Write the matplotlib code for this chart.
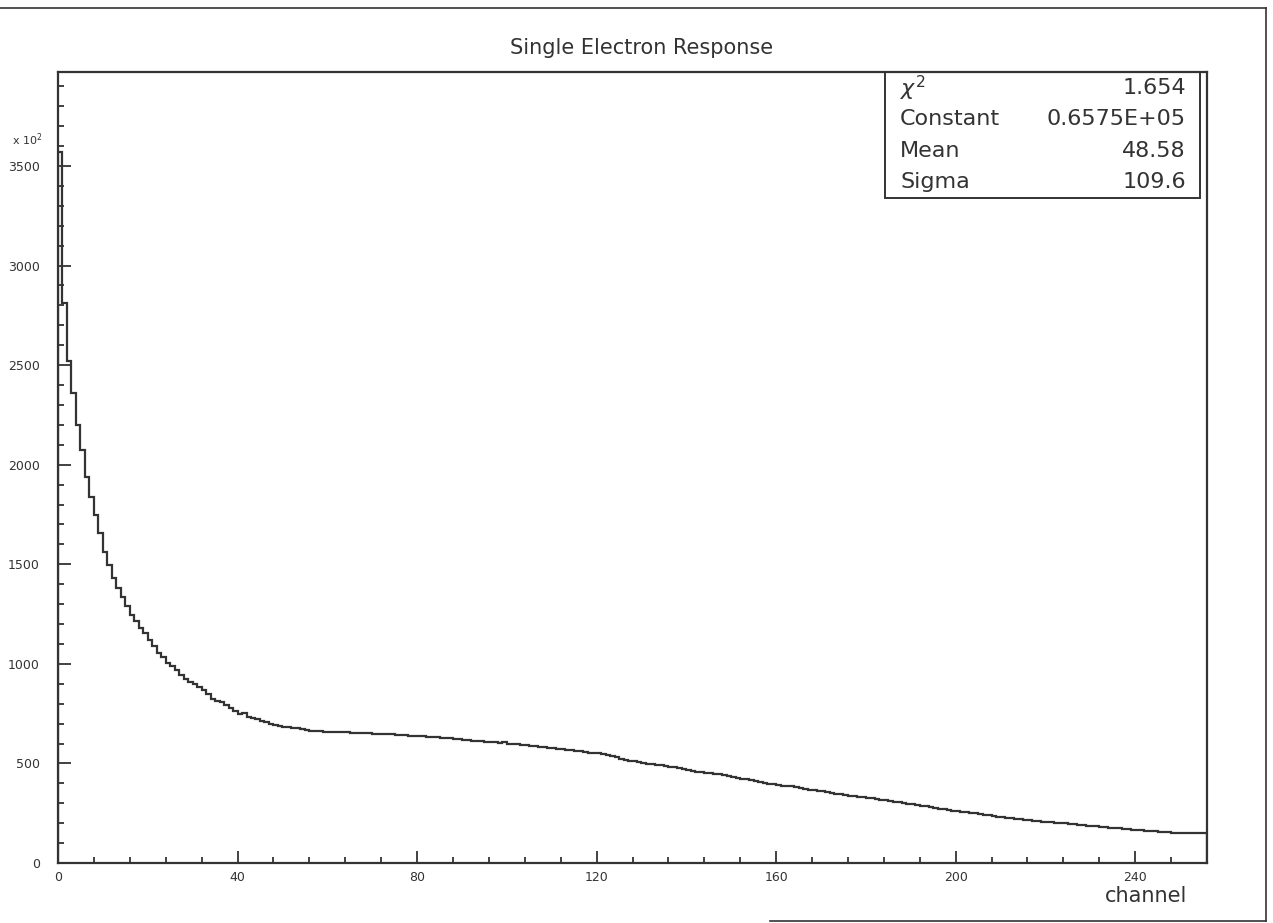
import matplotlib
matplotlib.use("Agg")
import matplotlib.pyplot as plt
import numpy as np
from matplotlib.ticker import MultipleLocator
from matplotlib.lines import Line2D

# histogram contents, one value per channel (units of 10^2)
counts = [
    3570, 2810, 2520, 2360, 2200, 2075, 1940, 1840, 1745, 1655,
    1560, 1495, 1430, 1380, 1335, 1290, 1245, 1215, 1180, 1155,
    1120, 1090, 1055, 1035, 1005, 990, 970, 945, 925, 910,
    900, 885, 870, 850, 825, 815, 808, 795, 778, 765,
    750, 755, 735, 730, 722, 715, 708, 700, 695, 688,
    683, 681, 679, 678, 675, 670, 665, 663, 661, 660,
    658, 659, 657, 656, 660, 655, 654, 653, 652, 652,
    650, 649, 648, 647, 648, 645, 643, 643, 640, 639,
    638, 636, 635, 633, 632, 630, 628, 626, 624, 622,
    619, 617, 615, 613, 612, 610, 608, 606, 604, 608,
    600, 598, 596, 593, 591, 588, 586, 583, 581, 578,
    576, 573, 570, 568, 565, 562, 560, 556, 553, 550,
    550, 545, 540, 535, 530, 524, 518, 513, 510, 506,
    503, 499, 496, 492, 490, 487, 484, 480, 477, 472,
    468, 463, 458, 455, 453, 450, 448, 445, 440, 435,
    431, 427, 424, 420, 417, 412, 407, 403, 399, 395,
    392, 389, 387, 385, 382, 377, 372, 368, 365, 362,
    360, 357, 353, 348, 344, 341, 338, 335, 332, 330,
    327, 324, 321, 318, 315, 312, 308, 304, 301, 298,
    295, 291, 288, 284, 280, 276, 273, 270, 267, 263,
    261, 258, 255, 252, 249, 246, 243, 240, 237, 233,
    231, 228, 226, 223, 220, 217, 214, 212, 210, 208,
    206, 204, 203, 202, 199, 197, 195, 193, 191, 188,
    186, 184, 182, 180, 178, 176, 174, 172, 169, 167,
    165, 164, 162, 161, 159, 158, 156, 155, 153, 152,
    152, 151, 151, 150, 150, 149,
]
edges = np.arange(len(counts) + 1)

stat_names = ["$\\chi^{2}$", "Constant", "Mean", "Sigma"]
stat_values = ["1.654", "0.6575E+05", "48.58", "109.6"]

ink = "#333333"
plt.rcParams["font.family"] = "DejaVu Sans"

fig = plt.figure(figsize=(12.73, 9.23), dpi=100)
ax = fig.add_axes([58 / 1273, 60 / 923, 1149 / 1273, 791 / 923])

ax.stairs(counts, edges, baseline=0, color=ink, linewidth=1.6)

ax.set_xlim(0, 256)
ax.set_ylim(0, 3972)
ax.xaxis.set_major_locator(MultipleLocator(40))
ax.xaxis.set_minor_locator(MultipleLocator(8))
ax.yaxis.set_major_locator(MultipleLocator(500))
ax.yaxis.set_minor_locator(MultipleLocator(100))
ax.tick_params(which="both", direction="in", color=ink, width=1.3,
               labelsize=9, labelcolor=ink, top=False, right=False)
ax.tick_params(which="major", length=9)
ax.tick_params(which="minor", length=4.5)
ax.tick_params(axis="x", which="major", pad=6)
ax.tick_params(axis="y", which="major", pad=13)
for s in ax.spines.values():
    s.set_color(ink)
    s.set_linewidth(1.6)

fig.text(642 / 1273, 1 - 48 / 923, "Single Electron Response", ha="center",
         va="center", fontsize=15, color=ink)
fig.text(12 / 1273, 1 - 140 / 923, "x 10$^{2}$", ha="left", va="center",
         fontsize=8, color=ink)
fig.text(1187 / 1273, 1 - 896 / 923, "channel", ha="right", va="center",
         fontsize=15, color=ink)

# statistics box in the top right corner
bx0, bx1 = 885 / 1273, 1200 / 1273
by0, by1 = 1 - 198 / 923, 1 - 72 / 923
fig.add_artist(plt.Rectangle((bx0, by0), bx1 - bx0, by1 - by0, transform=fig.transFigure,
                             fill=False, edgecolor=ink, linewidth=1.4))
rows_y = [88, 119, 151, 182]
for name, val, ry in zip(stat_names, stat_values, rows_y):
    fig.text(900 / 1273, 1 - ry / 923, name, ha="left", va="center", fontsize=16, color=ink)
    fig.text(1186 / 1273, 1 - ry / 923, val, ha="right", va="center", fontsize=16, color=ink)

# page frame from the scan
fig.add_artist(Line2D([0, 1266 / 1273], [1 - 8 / 923] * 2, transform=fig.transFigure,
                      color=ink, linewidth=1.2))
fig.add_artist(Line2D([1266 / 1273] * 2, [1 - 8 / 923, 1 - 921 / 923], transform=fig.transFigure,
                      color=ink, linewidth=1.2))
fig.add_artist(Line2D([770 / 1273, 1266 / 1273], [1 - 921 / 923] * 2, transform=fig.transFigure,
                      color=ink, linewidth=1.2))

fig.savefig("out.png", dpi=100)
